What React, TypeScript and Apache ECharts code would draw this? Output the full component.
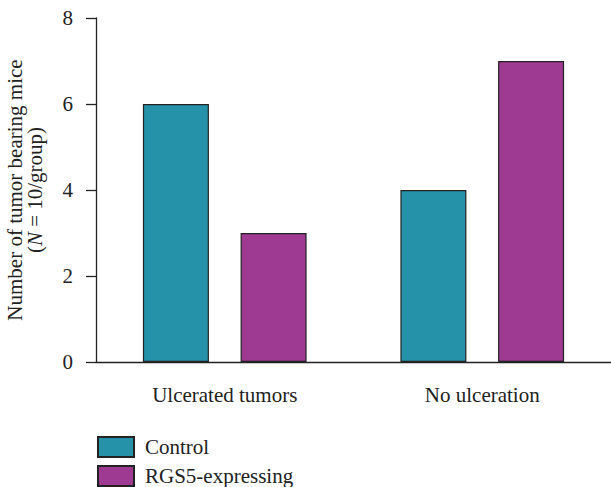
import React, { useEffect, useRef } from "react";
import * as echarts from "echarts";

const categories = ["Ulcerated tumors", "No ulceration"];
const controlValues = [6, 4];
const rgs5Values = [3, 7];
const seriesNames = ["Control", "RGS5-expressing"];
const yTicks = [0, 2, 4, 6, 8];

const FONT = "'Liberation Serif', 'Times New Roman', serif";
const FS = 21;

export default function App() {
  const ref = useRef<HTMLDivElement>(null);
  useEffect(() => {
    if (!ref.current) return;
    const chart = echarts.init(ref.current, null, { renderer: "svg" });
    chart.setOption({
      animation: false,
      textStyle: { fontFamily: FONT },
      grid: { left: 96, right: 0, top: 18, bottom: 125, containLabel: false, outerBoundsMode: "none" },
      legend: {
        data: seriesNames,
        orient: "vertical",
        left: 97,
        top: 436,
        padding: 0,
        itemWidth: 36,
        itemHeight: 20,
        itemGap: 7,
        icon: "rect",
        textStyle: { fontFamily: FONT, fontSize: 21, color: "#222", padding: [0, 0, 0, 6] },
      },
      xAxis: {
        type: "category",
        data: categories,
        axisLine: { lineStyle: { color: "#222", width: 1.3 } },
        axisTick: { alignWithLabel: true, length: 9, lineStyle: { color: "#222", width: 1.3 } },
        axisLabel: { color: "#222", fontSize: FS, margin: 22, fontFamily: FONT },
      },
      yAxis: {
        type: "value",
        min: yTicks[0],
        max: yTicks[yTicks.length - 1],
        interval: 2,
        splitLine: { show: false },
        axisLine: { show: true, lineStyle: { color: "#222", width: 1.3 } },
        axisTick: { show: true, length: 10, lineStyle: { color: "#222", width: 1.3 } },
        axisLabel: { color: "#222", fontSize: FS, margin: 23, fontFamily: FONT },
        name: "{a|Number of tumor bearing mice}\n{a|(}{i|N}{a| = 10/group)}",
        nameLocation: "middle",
        nameRotate: 90,
        nameGap: 51,
        nameTextStyle: {
          color: "#222",
          rich: {
            a: { fontFamily: FONT, fontSize: FS, color: "#222", lineHeight: 20 },
            i: { fontFamily: FONT, fontSize: FS, color: "#222", fontStyle: "italic", lineHeight: 20 },
          },
        },
      },
      series: [
        {
          name: seriesNames[0],
          type: "bar",
          data: controlValues,
          barWidth: 66,
          barGap: "48%",
          itemStyle: { color: "#2692aa", borderColor: "#222", borderWidth: 1.2 },
        },
        {
          name: seriesNames[1],
          type: "bar",
          data: rgs5Values,
          barWidth: 66,
          barGap: "48%",
          itemStyle: { color: "#9e3a92", borderColor: "#222", borderWidth: 1.2 },
        },
      ],
    });
    return () => chart.dispose();
  }, []);
  return <div ref={ref} style={{ width: 611, height: 487, position: "absolute", left: 0, top: 0 }} />;
}
